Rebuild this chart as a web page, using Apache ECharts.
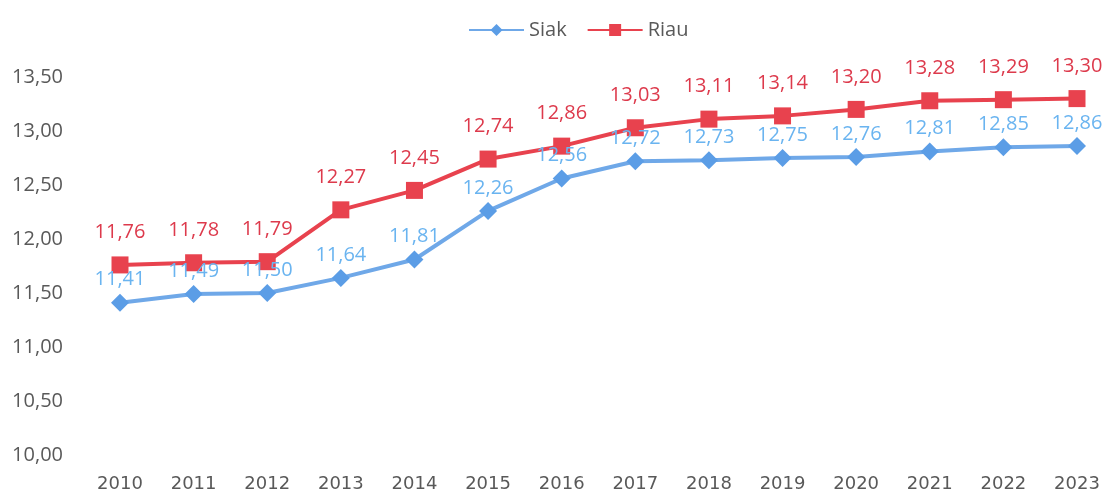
<!DOCTYPE html>
<html><head><meta charset="utf-8">
<script src="https://cdn.jsdelivr.net/npm/echarts@6/dist/echarts.min.js"></script>
<style>html,body{margin:0;padding:0;background:#fff}#c{width:1107px;height:494px}</style>
</head><body><div id="c"></div>
<script>
const years = ['2010','2011','2012','2013','2014','2015','2016','2017','2018','2019','2020','2021','2022','2023'];
const siak = [11.41,11.49,11.50,11.64,11.81,12.26,12.56,12.72,12.73,12.75,12.76,12.81,12.85,12.86];
const riau = [11.76,11.78,11.79,12.27,12.45,12.74,12.86,13.03,13.11,13.14,13.20,13.28,13.29,13.30];
const fmt = v => v.toFixed(2).replace('.', ',');
const chart = echarts.init(document.getElementById('c'));
chart.setOption({
  animation:false,
  legend:{top:15,left:463,itemWidth:55,itemHeight:15,itemGap:20,
    textStyle:{fontFamily:'Open Sans',fontSize:20,color:'#595959'},
    data:['Siak','Riau']},
  grid:{left:120,right:30,top:77,bottom:39},
  xAxis:{type:'category',data:years,boundaryGap:false,
    axisLine:{show:false},axisTick:{show:false},
    axisLabel:{margin:20,fontFamily:'DejaVu Sans',fontSize:18,color:'#595959'}},
  yAxis:{type:'value',min:10,max:13.5,interval:0.5,
    splitLine:{show:false},axisLine:{show:false},axisTick:{show:false},
    axisLabel:{margin:57,fontFamily:'Open Sans',fontSize:20,color:'#595959',formatter:fmt}},
  series:[
    {name:'Siak',type:'line',data:siak,symbol:'diamond',symbolSize:18,
      lineStyle:{width:4,color:'#6fa8e8'},itemStyle:{color:'#5b9de6'},
      label:{show:true,position:'top',distance:4,fontFamily:'Open Sans',fontSize:20,color:'#6ab4f0',formatter:p=>fmt(p.value)}},
    {name:'Riau',type:'line',data:riau,symbol:'rect',symbolSize:17,
      lineStyle:{width:4,color:'#e8424e'},itemStyle:{color:'#e8424e'},
      label:{show:true,position:'top',distance:14,fontFamily:'Open Sans',fontSize:20,color:'#dd3a4c',formatter:p=>fmt(p.value)}}
  ]
});
</script></body></html>
